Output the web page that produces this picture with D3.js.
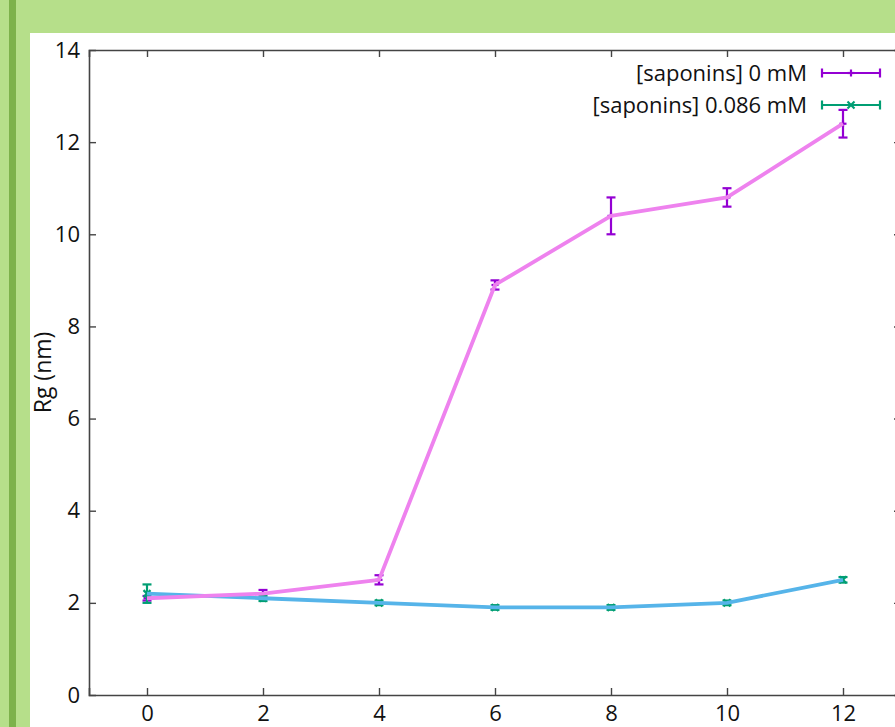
<!DOCTYPE html>
<html>
<head>
<meta charset="utf-8">
<script src="https://cdn.jsdelivr.net/npm/d3@7"></script>
<style>
  html, body { margin: 0; padding: 0; background: #b6df8a; }
  svg { display: block; }
  text { font-family: "Open Sans", Lato, sans-serif; fill: #111; }
</style>
</head>
<body>
<svg id="chart" width="895" height="727"></svg>
<script>
// Time points (x) and radius of gyration (nm) with standard deviations
const times = [0, 2, 4, 6, 8, 10, 12];
const rgSap0 = [2.1, 2.2, 2.5, 8.9, 10.4, 10.8, 12.4];
const errSap0 = [0.05, 0.08, 0.1, 0.1, 0.4, 0.2, 0.3];
const rgSap086 = [2.2, 2.1, 2.0, 1.9, 1.9, 2.0, 2.5];
const errSap086 = [0.2, 0.06, 0.05, 0.05, 0.05, 0.05, 0.06];
const seriesNames = ["[saponins] 0 mM", "[saponins] 0.086 mM"];
const xTicks = [0, 2, 4, 6, 8, 10, 12];
const yTicks = [0, 2, 4, 6, 8, 10, 12, 14];

const svg = d3.select("#chart");
const font = "'Open Sans', Lato, sans-serif";

// page background: green frame with a darker vertical stripe
svg.append("rect").attr("x", 0).attr("y", 0).attr("width", 895).attr("height", 727).attr("fill", "#b6df8a");
svg.append("rect").attr("x", 9).attr("y", 0).attr("width", 7).attr("height", 727).attr("fill", "#7db24b");
svg.append("rect").attr("x", 30).attr("y", 33).attr("width", 865).attr("height", 694).attr("fill", "#ffffff");

const x = d3.scaleLinear().domain([-1, 13]).range([89, 901]);
const y = d3.scaleLinear().domain([0, 14]).range([695, 50]);

const axisColor = "#444";
const tickLen = 7;

// bottom axis with labels
const gx = svg.append("g").attr("transform", `translate(0,${y(0)})`)
  .call(d3.axisBottom(x).tickValues(xTicks).tickSize(-tickLen).tickPadding(10).tickFormat(d3.format("d")));
// top mirror
const gxt = svg.append("g").attr("transform", `translate(0,${y(14)})`)
  .call(d3.axisTop(x).tickValues(xTicks).tickSize(-tickLen).tickFormat(""));
// left axis with labels
const gy = svg.append("g").attr("transform", `translate(${x(-1)},0)`)
  .call(d3.axisLeft(y).tickValues(yTicks).tickSize(-tickLen).tickPadding(9).tickFormat(d3.format("d")));
// right mirror
const gyr = svg.append("g").attr("transform", `translate(${x(13)},0)`)
  .call(d3.axisRight(y).tickValues(yTicks).tickSize(-tickLen).tickFormat(""));

[gx, gxt, gy, gyr].forEach(g => {
  g.select(".domain").attr("stroke", axisColor).attr("stroke-width", 1.6);
  g.selectAll(".tick line").attr("stroke", axisColor).attr("stroke-width", 1.4);
  g.selectAll(".tick text").attr("font-size", 22).attr("fill", "#111")
    .style("font-family", font);
});
gy.selectAll(".tick line").filter(d => d === 0 || d === 14).remove();
gyr.selectAll(".tick line").filter(d => d === 0 || d === 14).remove();

// y axis title
svg.append("text")
  .attr("transform", `translate(51,${(y(0) + y(14)) / 2}) rotate(-90)`)
  .attr("text-anchor", "middle")
  .attr("font-size", 23)
  .text("Rg (nm)");

const capW = 4.5;

function drawErrorBars(vals, errs, color, marker) {
  const g = svg.append("g").attr("stroke", color).attr("stroke-width", 2.2).attr("fill", "none");
  times.forEach((t, i) => {
    const cx = x(t), lo = y(vals[i] - errs[i]), hi = y(vals[i] + errs[i]);
    g.append("line").attr("x1", cx).attr("x2", cx).attr("y1", lo).attr("y2", hi);
    g.append("line").attr("x1", cx - capW).attr("x2", cx + capW).attr("y1", lo).attr("y2", lo);
    g.append("line").attr("x1", cx - capW).attr("x2", cx + capW).attr("y1", hi).attr("y2", hi);
    drawMarker(g, cx, y(vals[i]), marker);
  });
}

function drawMarker(g, cx, cy, marker) {
  const m = 3.5;
  if (marker === "plus") {
    g.append("line").attr("x1", cx - m).attr("x2", cx + m).attr("y1", cy).attr("y2", cy);
    g.append("line").attr("x1", cx).attr("x2", cx).attr("y1", cy - m).attr("y2", cy + m);
  } else {
    g.append("line").attr("x1", cx - m).attr("x2", cx + m).attr("y1", cy - m).attr("y2", cy + m);
    g.append("line").attr("x1", cx - m).attr("x2", cx + m).attr("y1", cy + m).attr("y2", cy - m);
  }
}

const line = d3.line().x(d => x(d[0])).y(d => y(d[1]));

drawErrorBars(rgSap0, errSap0, "#9400d3", "plus");
drawErrorBars(rgSap086, errSap086, "#009e73", "cross");

svg.append("path")
  .datum(times.map((t, i) => [t, rgSap086[i]]))
  .attr("d", line).attr("fill", "none")
  .attr("stroke", "#56b4e9").attr("stroke-width", 3.8).attr("stroke-linejoin", "round");
svg.append("path")
  .datum(times.map((t, i) => [t, rgSap0[i]]))
  .attr("d", line).attr("fill", "none")
  .attr("stroke", "#ee82ee").attr("stroke-width", 3.8).attr("stroke-linejoin", "round");

// legend
const legendColors = ["#9400d3", "#009e73"];
const legendMarkers = ["plus", "cross"];
seriesNames.forEach((name, i) => {
  const ly = 73 + i * 32;
  svg.append("text").attr("x", 807).attr("y", ly).attr("dy", "0.35em")
    .attr("text-anchor", "end").attr("font-size", 22).text(name);
  const g = svg.append("g").attr("stroke", legendColors[i]).attr("stroke-width", 2.2);
  g.append("line").attr("x1", 822).attr("x2", 880).attr("y1", ly).attr("y2", ly);
  g.append("line").attr("x1", 822).attr("x2", 822).attr("y1", ly - 4.5).attr("y2", ly + 4.5);
  g.append("line").attr("x1", 880).attr("x2", 880).attr("y1", ly - 4.5).attr("y2", ly + 4.5);
  drawMarker(g, 851, ly, legendMarkers[i]);
});
</script>
</body>
</html>
